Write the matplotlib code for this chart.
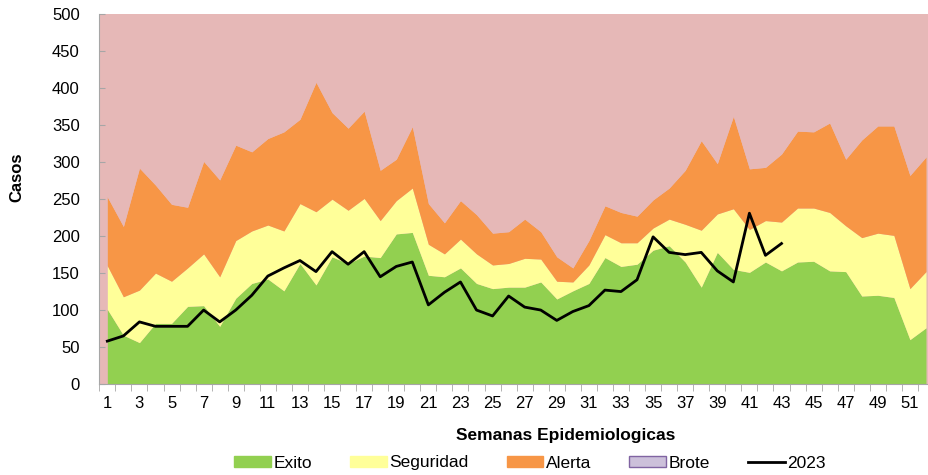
import numpy as np
import matplotlib.pyplot as plt
from matplotlib.patches import Patch
from matplotlib.lines import Line2D

plt.rcParams['font.family'] = ['Liberation Sans', 'DejaVu Sans']

semanas = np.arange(1, 53)
# limites acumulados del canal endemico
lim_exito = [101, 66, 56, 82, 82, 105, 106, 78, 116, 136,
             142, 126, 163, 134, 172, 163, 173, 171, 203, 205,
             147, 145, 157, 136, 129, 131, 131, 138, 115, 126,
             136, 171, 159, 162, 181, 187, 165, 131, 178, 155,
             151, 165, 153, 165, 166, 153, 152, 119, 120, 117,
             60, 76]
lim_seguridad = [160, 118, 127, 150, 139, 157, 176, 145, 194, 207,
                 215, 207, 244, 233, 250, 235, 251, 221, 248, 265,
                 189, 176, 196, 176, 161, 163, 170, 169, 139, 138,
                 161, 202, 191, 191, 211, 223, 216, 208, 230, 237,
                 209, 221, 219, 238, 238, 232, 214, 198, 204, 201,
                 129, 152]
lim_alerta = [253, 213, 292, 269, 243, 239, 301, 276, 323, 314,
              332, 341, 358, 408, 367, 346, 369, 289, 304, 348,
              244, 218, 248, 229, 204, 206, 223, 206, 172, 157,
              194, 241, 232, 227, 249, 265, 289, 329, 298, 362,
              291, 293, 311, 342, 341, 353, 304, 330, 349, 349,
              282, 307]
lim_brote = [500] * 52
casos_2023 = [58, 65, 84, 78, 78, 78, 100, 84, 100, 120,
              146, 157, 167, 152, 179, 162, 179, 145, 159, 165,
              107, 124, 138, 100, 92, 119, 104, 100, 86, 98,
              106, 127, 125, 141, 199, 178, 175, 178, 153, 138,
              231, 174, 190]

verde = '#92d050'
amarillo = '#ffff99'
naranja = '#f79646'
rosa = '#e6b8b7'
gris = '#a6a6a6'

fig = plt.figure(figsize=(9.29, 4.75), dpi=100)
ax = fig.add_axes([99.3 / 929, 91 / 475, 834.7 / 929, 369.7 / 475])
ax.set_facecolor(rosa)

ax.fill_between(semanas, 0, lim_exito, color=verde, lw=0)
ax.fill_between(semanas, lim_exito, lim_seguridad, color=amarillo, lw=0)
ax.fill_between(semanas, lim_seguridad, lim_alerta, color=naranja, lw=0)
ax.fill_between(semanas, lim_alerta, lim_brote, color=rosa, lw=0)
ax.plot(semanas[:len(casos_2023)], casos_2023, color='black', lw=2)

ax.set_xlim(0.5, 52.5)
ax.set_ylim(0, 500)
ax.set_yticks(np.arange(0, 501, 50))
ax.set_xticks(semanas[::2])
ax.set_xticks(np.arange(0.5, 53, 1), minor=True)
ax.tick_params(axis='x', which='major', length=0, labelsize=12, pad=9)
ax.tick_params(axis='x', which='minor', length=5, color=gris, direction='out')
ax.tick_params(axis='y', length=4, color=gris, direction='in', labelsize=12, pad=14)
for s in ['top', 'right']:
    ax.spines[s].set_visible(False)
for s in ['left', 'bottom']:
    ax.spines[s].set_color(gris)

ax.set_ylabel('Casos', fontsize=12, fontweight='bold')
ax.yaxis.set_label_coords(-0.090, 0.56)
ax.set_xlabel('Semanas Epidemiologicas', fontsize=12.5, fontweight='bold')
ax.xaxis.set_label_coords(0.559, -0.12)

handles = [Patch(facecolor=verde, edgecolor=verde),
           Patch(facecolor=amarillo, edgecolor=amarillo),
           Patch(facecolor=naranja, edgecolor=naranja),
           Patch(facecolor='#ccc0da', edgecolor='#8064a2'),
           Line2D([], [], color='black', lw=2)]
labels = ['Exito', 'Seguridad', 'Alerta', 'Brote', '2023']
fig.legend(handles, labels, loc='center', bbox_to_anchor=(530 / 929, 1 - 463 / 475),
           ncol=5, frameon=False, fontsize=12.5, handlelength=2.1, handleheight=0.6,
           handletextpad=0.15, columnspacing=2.2)

fig.savefig('out.png', dpi=100)
